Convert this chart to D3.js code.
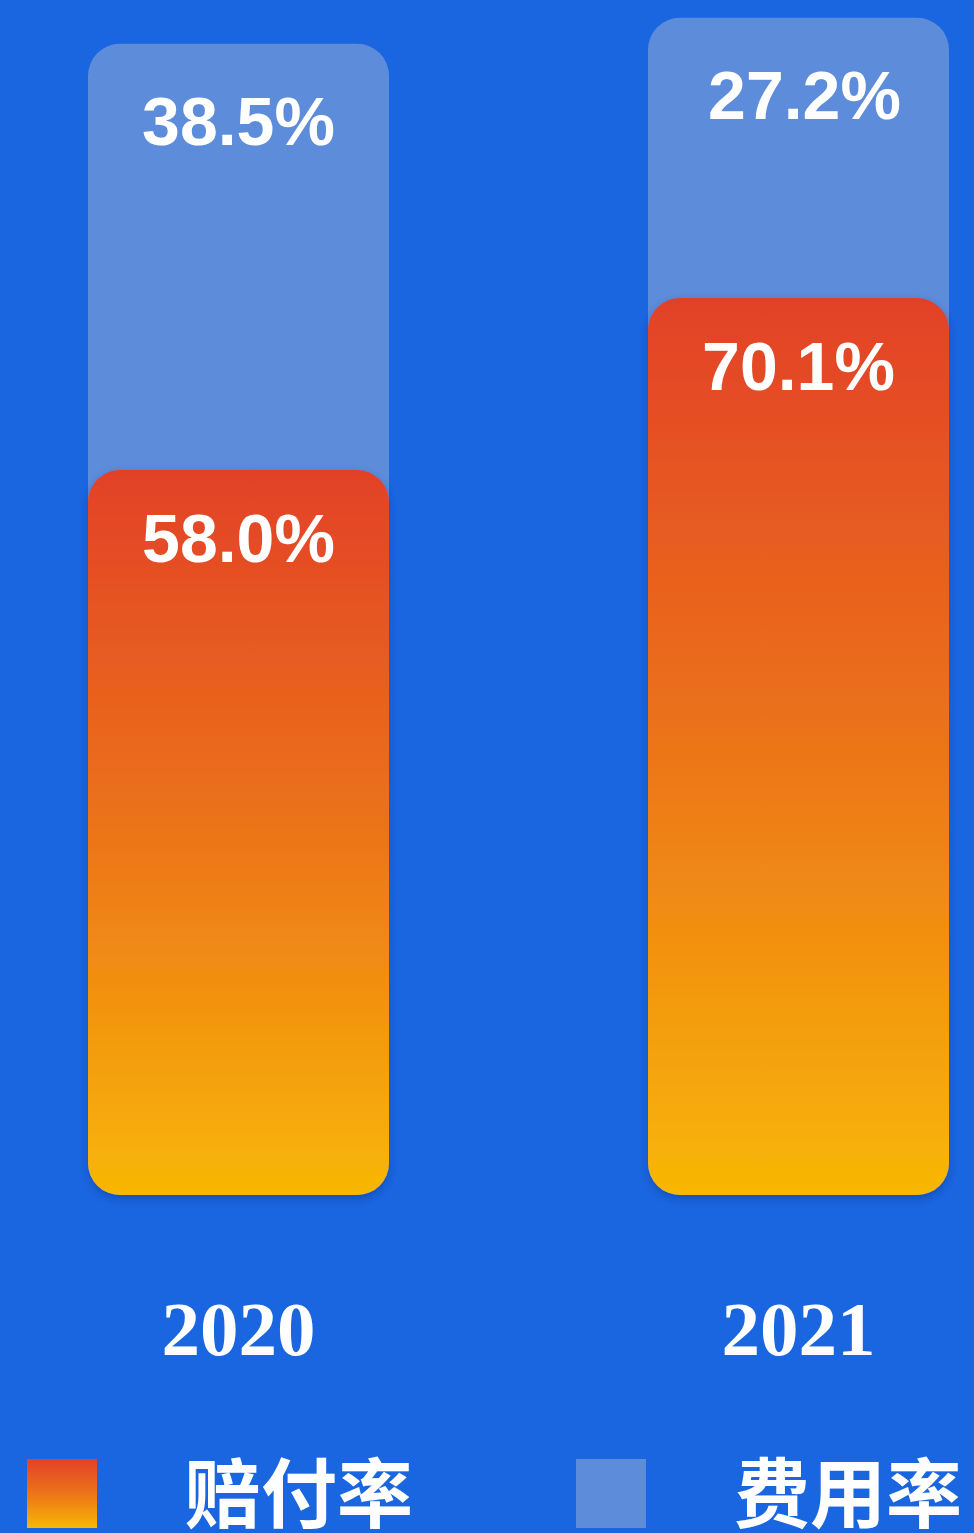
<!DOCTYPE html>
<html><head><meta charset="utf-8">
<script src="https://cdn.jsdelivr.net/npm/d3@7"></script>
<style>html,body{margin:0;padding:0;background:#1a66e0;overflow:hidden}svg{display:block}</style>
</head><body><div id="chart"></div>
<script>
const years = ["2020", "2021"];
const claimRate = [58.0, 70.1];     // 赔付率
const expenseRate = [38.5, 27.2];   // 费用率
const seriesNames = ["赔付率", "费用率"];

const W = 974, H = 1533;
const svg = d3.select("#chart").append("svg").attr("width", W).attr("height", H);
const defs = svg.append("defs");
const grad = defs.append("linearGradient").attr("id","gRed").attr("x1",0).attr("y1",0).attr("x2",0).attr("y2",1);
grad.append("stop").attr("offset","0%").attr("stop-color","#e24128");
grad.append("stop").attr("offset","50%").attr("stop-color","#ec7419");
grad.append("stop").attr("offset","100%").attr("stop-color","#f8b705");
const f = defs.append("filter").attr("id","sh").attr("x","-10%").attr("y","-10%").attr("width","120%").attr("height","120%");
f.append("feDropShadow").attr("dx",0).attr("dy",4).attr("stdDeviation",4).attr("flood-color","#0a2a70").attr("flood-opacity",0.35);

svg.append("rect").attr("width",W).attr("height",H).attr("fill","#1a66e0");

const baseY = 1195;
const barW = 301, R = 32;
const x = d3.scalePoint().domain(years).range([238.5, 798.5]);
// claim-rate axis (min 7)
const yClaim = d3.scaleLinear().domain([7, 77]).range([baseY, baseY - 995]);
// expense-rate segment height scale (min 5.5)
const hExp = d3.scaleLinear().domain([5.5, 40.5]).range([0, 452.2]);

const data = years.map((y,i)=>({year:y, claim:claimRate[i], exp:expenseRate[i]}));

const g = svg.append("g");
g.selectAll("rect.exp").data(data).join("rect").attr("class","exp")
  .attr("x", d=>x(d.year)-barW/2).attr("width", barW)
  .attr("y", d=>yClaim(d.claim) - hExp(d.exp))
  .attr("height", d=>baseY - (yClaim(d.claim) - hExp(d.exp)))
  .attr("rx", R).attr("ry", R).attr("fill","#5d8cda");
g.selectAll("rect.claim").data(data).join("rect").attr("class","claim")
  .attr("x", d=>x(d.year)-barW/2).attr("width", barW)
  .attr("y", d=>yClaim(d.claim)).attr("height", d=>baseY - yClaim(d.claim))
  .attr("rx", R).attr("ry", R).attr("fill","url(#gRed)").attr("filter","url(#sh)");

const lblFont = "'Liberation Sans', Arial, Helvetica, sans-serif";
g.selectAll("text.exp").data(data).join("text").attr("class","exp")
  .attr("x", d=>x(d.year) + (d.year === "2021" ? 6 : 0)).attr("y", d=>yClaim(d.claim) - hExp(d.exp) + 101)
  .attr("text-anchor","middle").attr("fill","#fff").attr("font-family",lblFont)
  .attr("font-weight","bold").attr("font-size",68)
  .text(d=>d.exp.toFixed(1)+"%");
g.selectAll("text.claim").data(data).join("text").attr("class","claim")
  .attr("x", d=>x(d.year)).attr("y", d=>yClaim(d.claim) + 92)
  .attr("text-anchor","middle").attr("fill","#fff").attr("font-family",lblFont)
  .attr("font-weight","bold").attr("font-size",68)
  .text(d=>d.claim.toFixed(1)+"%");

g.selectAll("text.yr").data(years).join("text").attr("class","yr")
  .attr("x", d=>x(d)).attr("y", 1355)
  .attr("text-anchor","middle").attr("fill","#fff")
  .attr("font-family","'Liberation Serif','Times New Roman',serif").attr("font-size",77)
  .attr("font-weight","bold")
  .text(d=>d);

const legendFills = ["url(#gRed)", "#5d8cda"];
const lg = svg.append("g");
const lx = d3.scaleOrdinal().domain(seriesNames).range([27, 576]);
lg.selectAll("rect").data(seriesNames).join("rect")
  .attr("x", d=>lx(d)).attr("y", 1459).attr("width", 70).attr("height", 69)
  .attr("fill", (d,i)=>legendFills[i]);
lg.selectAll("text").data(seriesNames).join("text")
  .attr("x", d=>lx(d)+158).attr("y", 1522)
  .attr("fill","#fff").attr("font-family","'Noto Sans CJK SC',sans-serif")
  .attr("font-weight","bold").attr("font-size",76)
  .text(d=>d);
</script></body></html>
